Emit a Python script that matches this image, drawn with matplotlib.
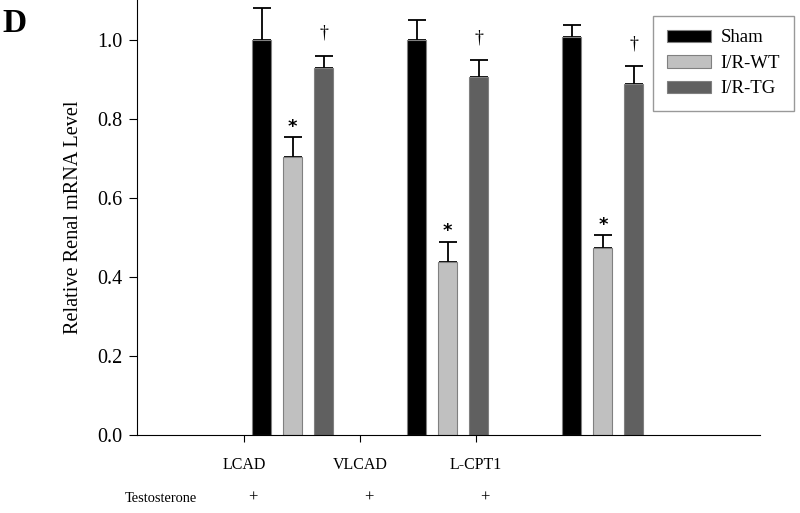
import matplotlib
matplotlib.use("Agg")
import matplotlib.pyplot as plt
import numpy as np
from matplotlib.patches import Patch

plt.rcParams['font.family'] = ['Liberation Serif', 'DejaVu Serif']

genes = ["LCAD", "VLCAD", "L-CPT1"]
series = ["Sham", "I/R-WT", "I/R-TG"]
sham = [1.00, 1.00, 1.008]
sham_err = [0.081, 0.051, 0.030]
wt = [0.704, 0.438, 0.473]
wt_err = [0.050, 0.051, 0.033]
tg = [0.929, 0.906, 0.889]
tg_err = [0.031, 0.043, 0.045]
wt_marks = ["*", "*", "*"]
tg_marks = ["\u2020", "\u2020", "\u2020"]
testosterone = ["+", "+", "+"]
colors = ["#000000", "#c0c0c0", "#606060"]

fig = plt.figure(figsize=(8, 5.13), dpi=100)
ax = fig.add_axes([0.171, 0.152, 0.779, 0.848])

groups = np.arange(len(genes))
width = 0.123
offset = 0.2
vals = [sham, wt, tg]
errs = [sham_err, wt_err, tg_err]
for i, (v, e, c) in enumerate(zip(vals, errs, colors)):
    x = groups + (i - 1) * offset
    ax.bar(x, v, width, color=c, edgecolor="#808080", linewidth=0.8, zorder=2)
    ax.errorbar(x, v, yerr=[np.zeros(len(v)), e], fmt="none", ecolor="black",
                elinewidth=1.3, capsize=6.5, capthick=1.3, zorder=1)

for g in groups:
    top = wt[g] + wt_err[g]
    ax.text(g, top + 0.004, wt_marks[g], ha="center", va="bottom", fontsize=13,
            family="DejaVu Sans", fontweight="bold")
    top = tg[g] + tg_err[g]
    ax.text(g + offset, top + 0.035, tg_marks[g], ha="center", va="bottom", fontsize=13)

ax.set_xlim(-1.006, 3.013)
ax.set_ylim(0, 1.101)
tick_pos = -0.316 + 0.748 * groups
ax.set_xticks(tick_pos)
ax.set_xticklabels(genes, fontsize=11.5)
ax.tick_params(axis="x", length=5, pad=11)
ax.set_yticks(np.arange(0, 1.01, 0.2))
ax.set_yticklabels([f"{t:.1f}" for t in np.arange(0, 1.01, 0.2)], fontsize=14.5)
ax.tick_params(axis="y", length=5.5, pad=5)
for s in ["top", "right"]:
    ax.spines[s].set_visible(False)
ax.set_ylabel("Relative Renal mRNA Level", fontsize=14.6, labelpad=10)

fig.text(125 / 800, 1 - 498 / 513, "Testosterone", fontsize=10.4, ha="left", va="center")
for g in groups:
    xd = tick_pos[g] + 0.06
    ax.annotate(testosterone[g], xy=(xd, 0), xycoords="data", xytext=(0, -45),
                textcoords="offset points", ha="center", va="center", fontsize=12,
                annotation_clip=False)

fig.text(2 / 800, 1 - 24 / 513, "D", fontsize=24, fontweight="bold", ha="left", va="center")

handles = [Patch(facecolor=c, edgecolor="#808080", linewidth=0.8) for c in colors]
leg = ax.legend(handles, series, loc="upper left", bbox_to_anchor=(653 / 800, 1 - 16 / 513),
                bbox_transform=fig.transFigure, fontsize=13.5, frameon=True, fancybox=False,
                edgecolor="#808080", handlelength=2.35, handleheight=0.64, handletextpad=0.53,
                borderpad=0.72, borderaxespad=0, labelspacing=0.45)
leg.get_frame().set_linewidth(1.0)

fig.savefig("out.png", dpi=100)
